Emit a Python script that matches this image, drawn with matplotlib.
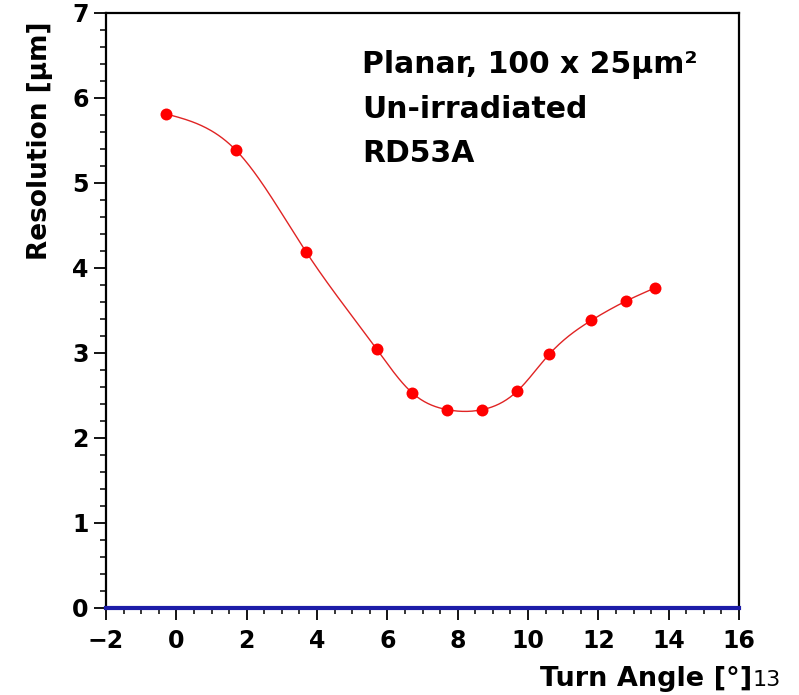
import numpy as np
import matplotlib
matplotlib.use("Agg")
from matplotlib import pyplot as plt
from matplotlib.ticker import MultipleLocator

''' Values read off the reference picture.'''

angle = [-0.3, 1.7, 3.7, 5.7, 6.7, 7.7, 8.7, 9.7, 10.6, 11.8, 12.8, 13.6]
resolution = [5.81, 5.38, 4.18, 3.04, 2.53, 2.33, 2.33, 2.55, 2.98, 3.38, 3.61, 3.76]

labels = ["Planar, 100 x 25\u00b5m\u00b2", "Un-irradiated", "RD53A"]


''' Natural cubic spline, only used to draw the smooth line through the points.'''

def Spline(x, y, xs):
    x = np.asarray(x, dtype=float)
    y = np.asarray(y, dtype=float)
    n = len(x)
    h = np.diff(x)
    A = np.zeros((n, n))
    r = np.zeros(n)
    A[0, 0] = 1.
    A[-1, -1] = 1.
    for i in range(1, n - 1):
        A[i, i - 1] = h[i - 1]
        A[i, i] = 2 * (h[i - 1] + h[i])
        A[i, i + 1] = h[i]
        r[i] = 6 * ((y[i + 1] - y[i]) / h[i] - (y[i] - y[i - 1]) / h[i - 1])
    m = np.linalg.solve(A, r)
    out = []
    for t in xs:
        k = min(max(np.searchsorted(x, t) - 1, 0), n - 2)
        a = x[k + 1] - t
        b = t - x[k]
        hk = h[k]
        out.append(m[k] * a**3 / (6 * hk) + m[k + 1] * b**3 / (6 * hk)
                   + (y[k] / hk - m[k] * hk / 6) * a + (y[k + 1] / hk - m[k + 1] * hk / 6) * b)
    return np.array(out)


W, H = 799, 695
fig = plt.figure(figsize=(W / 100, H / 100), dpi=100)
ax = fig.add_axes([106 / W, (H - 607.7) / H, (739 - 106) / W, (607.7 - 12.7) / H])

xs = np.linspace(angle[0], angle[-1], 400)
ax.plot(xs, Spline(angle, resolution, xs), color='#e02424', lw=1.0, zorder=3)
ax.plot(angle, resolution, 'o', color='#ff0000', markersize=8.6, markeredgewidth=0, zorder=4)
ax.axhline(0, color='#1c1ca8', lw=3.0, zorder=5, clip_on=False)

ax.set_xlim(-2, 16)
ax.set_ylim(0, 7)
ax.xaxis.set_major_locator(MultipleLocator(2))
ax.xaxis.set_minor_locator(MultipleLocator(0.5))
ax.yaxis.set_major_locator(MultipleLocator(1))
ax.yaxis.set_minor_locator(MultipleLocator(0.2))
ax.tick_params(which='major', direction='out', length=8.6, width=1.3, pad=4,
               labelsize=17, top=False, right=False)
ax.tick_params(which='minor', direction='out', length=4.3, width=1.1, top=False, right=False)
ax.tick_params(axis='x', which='major', pad=7)
for lab in ax.get_xticklabels() + ax.get_yticklabels():
    lab.set_fontweight('bold')
    lab.set_family('DejaVu Sans')
for s in ax.spines.values():
    s.set_linewidth(1.6)

''' Axis titles, placed like the ROOT style ones.'''

fig.text(27 / W, 1 - 22 / H, "Resolution [\u00b5m]", rotation=90, ha='left', va='top',
         fontsize=19, fontweight='bold', family='DejaVu Sans')
fig.text(752 / W, 1 - 686 / H, "Turn Angle [\u00b0]", ha='right', va='baseline',
         fontsize=19.5, fontweight='bold', family='DejaVu Sans')
fig.text(753 / W, 1 - 686 / H, "13", ha='left', va='baseline',
         fontsize=16, family='DejaVu Sans')

baselines = [73, 117.5, 162]
for i in range(len(labels)):
    fig.text(362 / W, 1 - baselines[i] / H, labels[i], ha='left', va='baseline',
             fontsize=21.5, fontweight='bold', family='DejaVu Sans')

fig.savefig("out.png", dpi=100)
